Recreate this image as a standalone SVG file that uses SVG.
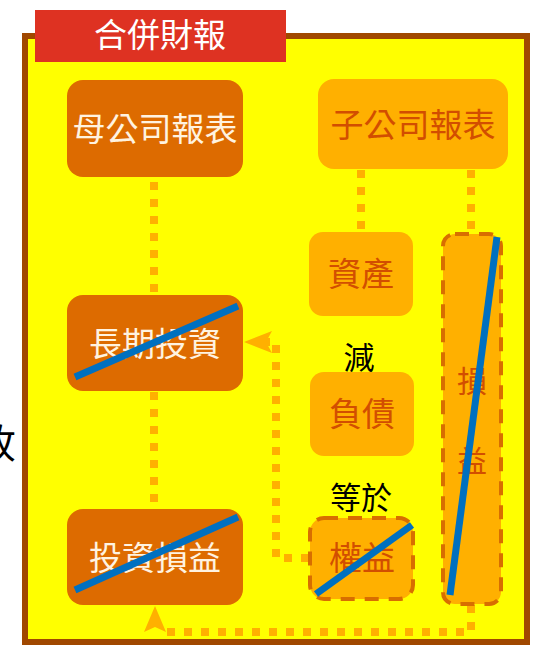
<svg xmlns="http://www.w3.org/2000/svg" width="535" height="646" viewBox="0 0 535 646">
<defs>
<style>
.t{font-family:"Noto Sans CJK TC","Noto Sans CJK SC",sans-serif;text-anchor:middle}
.dk{fill:#DD6B00}
.lt{fill:#FFB000}
.wt{fill:#FFF3E0;font-size:33px}
.ot{fill:#D24E00;font-size:33px}
.bk{fill:#000;font-size:31px}
.dash{fill:#FFB000;stroke:#D86E00;stroke-width:4;stroke-dasharray:14 10}
.strike{stroke:#0070C0;stroke-width:7;stroke-linecap:butt}
.dot{fill:none;stroke:#FFB000;stroke-width:8;stroke-dasharray:8 9}
</style>
</defs>
<rect width="535" height="646" fill="#FFFFFF"/>
<text class="t bk" x="-4" y="458" font-size="40" style="font-size:40px">收</text>
<rect x="25" y="36" width="502" height="606" fill="#FFFF00" stroke="#A04800" stroke-width="6"/>
<g id="title">
<rect x="35" y="10" width="251" height="52" fill="#DE3222"/>
<text class="t" x="160" y="47" style="font-size:33px;fill:#FFFFFF">合併財報</text>
</g>
<g id="connectors">
<line class="dot" x1="154" y1="182" x2="154" y2="295"/>
<line class="dot" x1="154" y1="392" x2="154" y2="509"/>
<line class="dot" x1="361" y1="170" x2="361" y2="232"/>
<line class="dot" x1="471" y1="170" x2="471" y2="232"/>
<polyline class="dot" points="309,558 276,558 276,342 262,342"/>
<polygon points="244,342 272,331 266,342 272,353" fill="#FFB000"/>
<polyline class="dot" points="471,605 471,632 165,632"/>
<polygon points="155,606 144,632 155,627 166,632" fill="#FFB000"/>
</g>
<g id="parent">
<rect class="dk" x="67" y="80" width="176" height="97" rx="16"/>
<text class="t wt" x="155" y="141">母公司報表</text>
</g>
<g id="sub">
<rect class="lt" x="318" y="79" width="190" height="90" rx="16"/>
<text class="t ot" x="413" y="137">子公司報表</text>
</g>
<g id="ltinv">
<rect class="dk" x="67" y="295" width="176" height="96" rx="16"/>
<text class="t wt" x="155" y="356">長期投資</text>
<line class="strike" x1="75" y1="377" x2="238" y2="306"/>
</g>
<g id="invpl">
<rect class="dk" x="67" y="509" width="176" height="96" rx="16"/>
<text class="t wt" x="155" y="570">投資損益</text>
<line class="strike" x1="75" y1="590" x2="238" y2="517"/>
</g>
<g id="assets">
<rect class="lt" x="309" y="232" width="104" height="84" rx="14"/>
<text class="t ot" x="361" y="286">資產</text>
</g>
<text class="t bk" x="359" y="369">減</text>
<g id="liab">
<rect class="lt" x="310" y="372" width="104" height="84" rx="14"/>
<text class="t ot" x="362" y="426">負債</text>
</g>
<text class="t bk" x="361" y="509">等於</text>
<g id="equity">
<rect class="dash" x="310" y="518" width="103" height="81" rx="14"/>
<text class="t ot" x="362" y="570">權益</text>
<line class="strike" x1="316" y1="594" x2="412" y2="525"/>
</g>
<g id="pl">
<rect class="dash" x="443" y="234" width="58" height="370" rx="12"/>
<text class="t ot" x="472" y="392" style="font-size:30px">損</text>
<text class="t ot" x="472" y="472" style="font-size:30px">益</text>
<line class="strike" x1="497" y1="237" x2="450" y2="595"/>
</g>
</svg>
